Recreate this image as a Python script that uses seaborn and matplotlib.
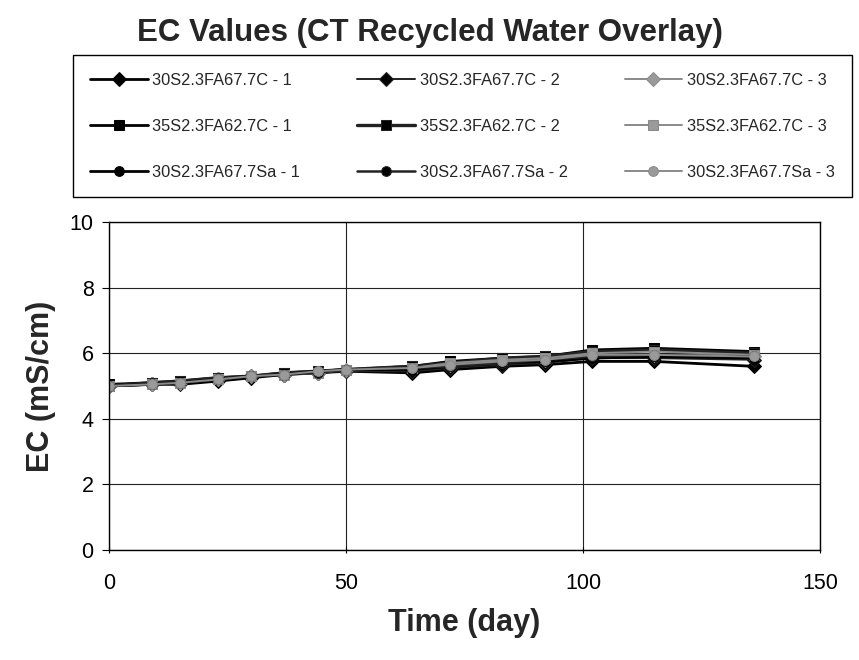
import matplotlib
matplotlib.use("Agg")
import matplotlib.pyplot as plt
import seaborn as sns
import pandas as pd

days = [0, 9, 15, 23, 30, 37, 44, 50, 64, 72, 83, 92, 102, 115, 136]

c_1 = [5.0, 5.05, 5.05, 5.15, 5.25, 5.35, 5.4, 5.45, 5.4, 5.5, 5.6, 5.65, 5.75, 5.75, 5.6]
c_2 = [5.0, 5.05, 5.1, 5.2, 5.3, 5.35, 5.4, 5.45, 5.45, 5.55, 5.65, 5.7, 5.85, 5.85, 5.8]
c_3 = [5.0, 5.05, 5.1, 5.2, 5.3, 5.35, 5.4, 5.5, 5.55, 5.65, 5.75, 5.8, 5.95, 5.95, 5.9]
s_1 = [5.05, 5.1, 5.15, 5.25, 5.3, 5.4, 5.45, 5.5, 5.6, 5.75, 5.85, 5.9, 6.1, 6.15, 6.05]
s_2 = [5.0, 5.1, 5.15, 5.25, 5.3, 5.4, 5.45, 5.5, 5.6, 5.7, 5.85, 5.9, 6.05, 6.1, 6.0]
s_3 = [5.0, 5.05, 5.1, 5.2, 5.3, 5.35, 5.4, 5.5, 5.55, 5.7, 5.8, 5.85, 6.0, 6.05, 5.95]
sa_1 = [5.0, 5.05, 5.1, 5.2, 5.3, 5.35, 5.45, 5.5, 5.5, 5.6, 5.7, 5.75, 5.85, 5.9, 5.85]
sa_2 = [5.0, 5.05, 5.1, 5.2, 5.3, 5.35, 5.4, 5.5, 5.55, 5.6, 5.7, 5.8, 5.9, 5.95, 5.9]
sa_3 = [5.0, 5.05, 5.1, 5.2, 5.3, 5.35, 5.45, 5.5, 5.55, 5.65, 5.75, 5.8, 5.95, 5.95, 5.9]

series_names = [
    "30S2.3FA67.7C - 1", "30S2.3FA67.7C - 2", "30S2.3FA67.7C - 3",
    "35S2.3FA62.7C - 1", "35S2.3FA62.7C - 2", "35S2.3FA62.7C - 3",
    "30S2.3FA67.7Sa - 1", "30S2.3FA67.7Sa - 2", "30S2.3FA67.7Sa - 3",
]
series_values = [c_1, c_2, c_3, s_1, s_2, s_3, sa_1, sa_2, sa_3]

title = "EC Values (CT Recycled Water Overlay)"
x_label = "Time (day)"
y_label = "EC (mS/cm)"
x_ticks = [0, 50, 100, 150]
y_ticks = [0, 2, 4, 6, 8, 10]

sns.set_theme(style="white")
plt.rcParams["font.family"] = ["Liberation Sans", "DejaVu Sans"]

fig = plt.figure(figsize=(8.59, 6.60), dpi=100)
ax = fig.add_axes([109 / 859, 110 / 660, (820 - 109) / 859, (550 - 222) / 660])

markers = ["D", "D", "D", "s", "s", "s", "o", "o", "o"]
colors = ["black", "#222222", "#8a8a8a"] * 3
mfc = ["black", "black", "#9a9a9a"] * 3
lws = [2.0, 1.4, 1.4, 2.0, 2.4, 1.4, 2.0, 1.8, 1.4]

df = pd.DataFrame({
    "day": [d for _ in series_names for d in days],
    "ec": [v for vals in series_values for v in vals],
    "series": [n for n in series_names for _ in days],
})

for i, name in enumerate(series_names):
    sub = df[df["series"] == name]
    sns.lineplot(data=sub, x="day", y="ec", ax=ax, color=colors[i],
                 marker=markers[i], markersize=7, markerfacecolor=mfc[i],
                 markeredgecolor=colors[i], linewidth=lws[i], label=name,
                 legend=False)

ax.set_xlim(0, 150)
ax.set_ylim(0, 10)
ax.set_xticks(x_ticks)
ax.set_yticks(y_ticks)
ax.grid(True, color="#222222", linewidth=0.8)
for sp in ax.spines.values():
    sp.set_color("black")
    sp.set_linewidth(1.0)
ax.tick_params(axis="both", labelsize=15.5, colors="black", length=5, width=0.8)
ax.tick_params(axis="x", direction="inout", pad=14, bottom=True)
ax.tick_params(axis="y", direction="out", left=True, pad=6)
ax.set_xlabel(x_label, fontsize=22, fontweight="bold", labelpad=10)
ax.set_ylabel(y_label, fontsize=22, fontweight="bold", labelpad=10)

fig.text(0.5, 1 - 33 / 660, title, ha="center", va="center",
         fontsize=22.5, fontweight="bold")

handles, labels = ax.get_legend_handles_labels()
order = [0, 3, 6, 1, 4, 7, 2, 5, 8]
handles = [handles[k] for k in order]
labels = [labels[k] for k in order]
leg = fig.legend(handles, labels, ncol=3, mode="expand",
                 bbox_to_anchor=(73 / 859, 1 - 197 / 660, (852 - 73) / 859, (197 - 55) / 660),
                 loc="lower left", fontsize=11.8, frameon=True, fancybox=False,
                 framealpha=1, edgecolor="black", handlelength=3.5,
                 handletextpad=0.3, columnspacing=0.4, borderaxespad=0,
                 labelspacing=1.9, borderpad=1.05)
leg.get_frame().set_linewidth(1.0)

fig.savefig("out.png", dpi=100)
